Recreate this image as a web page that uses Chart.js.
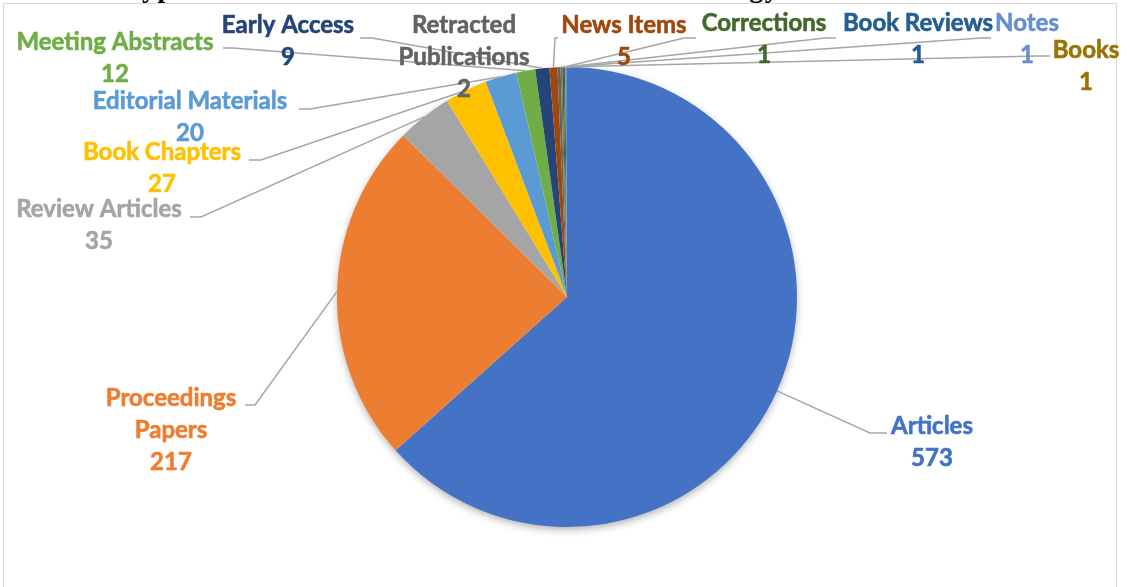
<!DOCTYPE html>
<html>
<head>
<meta charset="utf-8">
<script src="https://cdn.jsdelivr.net/npm/chart.js@4.4.1/dist/chart.umd.min.js"></script>
<style>
  html, body { margin: 0; padding: 0; background: #fff; }
  #wrap { position: relative; width: 1130px; height: 587px; }
</style>
</head>
<body>
<div id="wrap"><canvas id="pie"></canvas></div>
<script>
const categories = ['Articles', 'Proceedings Papers', 'Review Articles', 'Book Chapters',
  'Editorial Materials', 'Meeting Abstracts', 'Early Access', 'News Items',
  'Retracted Publications', 'Books', 'Book Reviews', 'Corrections', 'Notes'];
const counts = [573, 217, 35, 27, 20, 12, 9, 5, 2, 1, 1, 1, 1];
const colors = ['#4472C4', '#ED7D31', '#A5A5A5', '#FFC000', '#5B9BD5', '#70AD47',
  '#264478', '#9E480E', '#636363', '#997300', '#255E91', '#43682B', '#698ED0'];

const titleText = 'Types of Publications on Educational Technology';

// label boxes: centre of first line, whether the name wraps, and the leader hook
// (hook = [x, y, elbowX] at the label end; null = no leader)
const labelLayout = [
  { x: 932, y: 426, wrap: false, hook: [887, 433, 870] },
  { x: 171, y: 398, wrap: true, hook: [245, 405, 255] },
  { x: 99, y: 209, wrap: false, hook: [190, 217, 201] },
  { x: 162, y: 152, wrap: false, hook: [249, 160, 261] },
  { x: 190, y: 101, wrap: false, hook: [299, 109, 310] },
  { x: 115, y: 42, wrap: false, hook: [223, 48, 233] },
  { x: 288, y: 25, wrap: false, hook: [360, 38, 372] },
  { x: 624, y: 25, wrap: false, hook: [558, 38, 555] },
  { x: 464, y: 25, wrap: true, hook: null },
  { x: 1086, y: 50, wrap: false, hook: [1050, 56, 1037] },
  { x: 918, y: 23, wrap: false, hook: [991, 38, 981] },
  { x: 764, y: 23, wrap: false, hook: [696, 38, 684] },
  { x: 1027, y: 23, wrap: false, hook: [836, 38, 825] }
];

const LINE_GAP = 32;
const LABEL_FONT = 'bold 24px Lato, "Open Sans", sans-serif';

// soft drop shadow behind the whole pie
const pieShadow = {
  id: 'pieShadow',
  beforeDatasetsDraw(chart) {
    const arc = chart.getDatasetMeta(0).data[0];
    if (!arc) return;
    const ctx = chart.ctx;
    ctx.save();
    ctx.shadowColor = 'rgba(0,0,0,0.35)';
    ctx.shadowBlur = 9;
    ctx.shadowOffsetY = 3;
    ctx.fillStyle = '#ffffff';
    ctx.beginPath();
    ctx.arc(arc.x, arc.y, arc.outerRadius - 1, 0, Math.PI * 2);
    ctx.fill();
    ctx.restore();
  }
};

// frame, clipped title, leader lines and value labels
const decorations = {
  id: 'decorations',
  beforeDraw(chart) {
    const ctx = chart.ctx;
    ctx.save();
    ctx.strokeStyle = '#D9D9D9';
    ctx.lineWidth = 1;
    ctx.strokeRect(3.5, 3.5, 1113, 700);
    ctx.restore();
  },
  afterDraw(chart) {
    const ctx = chart.ctx;
    const arcs = chart.getDatasetMeta(0).data;

    ctx.save();
    ctx.font = 'bold 28px "Liberation Serif", "Times New Roman", serif';
    ctx.letterSpacing = '1.5px';
    ctx.fillStyle = '#000';
    ctx.textAlign = 'left';
    ctx.textBaseline = 'alphabetic';
    ctx.fillText(titleText, 124, -3);
    ctx.restore();

    ctx.save();
    ctx.strokeStyle = '#A6A6A6';
    ctx.lineWidth = 1.5;
    labelLayout.forEach((lab, i) => {
      if (!lab.hook) return;
      const a = arcs[i];
      const mid = (a.startAngle + a.endAngle) / 2;
      const px = a.x + Math.cos(mid) * a.outerRadius;
      const py = a.y + Math.sin(mid) * a.outerRadius;
      const [hx, hy, ex] = lab.hook;
      ctx.beginPath();
      ctx.moveTo(hx, hy);
      ctx.lineTo(ex, hy);
      ctx.lineTo(px, py);
      ctx.stroke();
    });
    ctx.restore();

    ctx.save();
    ctx.font = LABEL_FONT;
    ctx.textAlign = 'center';
    ctx.textBaseline = 'middle';
    ctx.lineWidth = 0.6;
    ctx.lineJoin = 'round';
    labelLayout.forEach((lab, i) => {
      const name = categories[i];
      const lines = lab.wrap ? name.split(' ') : [name];
      lines.push(String(counts[i]));
      ctx.fillStyle = colors[i];
      ctx.strokeStyle = colors[i];
      lines.forEach((t, k) => {
        ctx.fillText(t, lab.x, lab.y + k * LINE_GAP);
        ctx.strokeText(t, lab.x, lab.y + k * LINE_GAP);
      });
    });
    ctx.restore();
  }
};

new Chart(document.getElementById('pie'), {
  type: 'pie',
  data: {
    labels: categories,
    datasets: [{
      data: counts,
      backgroundColor: colors,
      borderWidth: 0,
      hoverOffset: 0,
      offset: 0
    }]
  },
  options: {
    responsive: true,
    maintainAspectRatio: false,
    animation: false,
    events: [],
    radius: 230,
    layout: { padding: { left: 337, right: 333, top: 67, bottom: 60 } },
    plugins: {
      legend: { display: false },
      tooltip: { enabled: false },
      title: { display: false }
    }
  },
  plugins: [pieShadow, decorations]
});
</script>
</body>
</html>
